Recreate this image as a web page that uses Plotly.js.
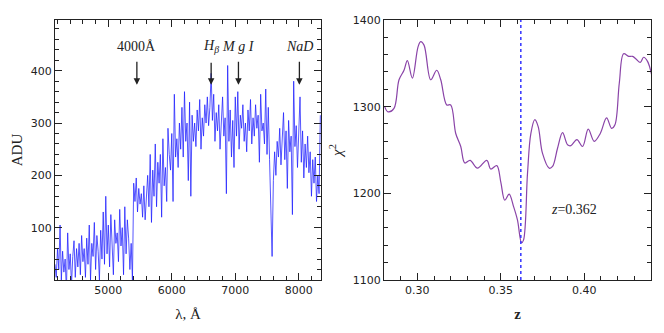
<!DOCTYPE html>
<html>
<head>
<meta charset="utf-8">
<script src="https://cdn.plot.ly/plotly-3.0.1.min.js"></script>
<style>
  html, body { margin: 0; padding: 0; background: #fff; }
  #myDiv { width: 664px; height: 333px; }
</style>
</head>
<body>
<div id="myDiv"></div>
<script>
//---------------------- DATA ---------------------------

// spectrum: wavelength grid start / step (A) and flux values (ADU)
var lambdaStart = 4160;
var lambdaStep = 20;
var adu = [
  30, 5, 60, 20, 105, 0, 55, 15, 40, -20,
  90, 20, 50, -10, 45, 75, 5, 60, 25, 70,
  10, 85, 35, 60, 5, 80, 30, 105, 0, 70,
  45, 110, 20, 85, 55, 0, 95, 40, 130, 30,
  160, 50, 105, 25, 125, 65, 10, 115, 70, 90,
  35, 135, 65, 100, 10, 140, 50, 115, 80, 20,
  70, 0, 185, 150, 195, 130, 175, 145, 165, 120,
  180, 115, 160, 200, 140, 240, 110, 210, 160, 260,
  140, 225, 185, 240, 120, 270, 180, 215, 150, 290,
  240, 210, 280, 150, 355, 235, 270, 215, 300, 250,
  330, 235, 360, 265, 300, 190, 340, 160, 315, 265,
  300, 255, 325, 285, 345, 250, 310, 275, 335, 300,
  350, 295, 330, 395, 305, 355, 265, 320, 285, 335,
  250, 300, 350, 275, 310, 165, 410, 265, 325, 235,
  305, 215, 350, 275, 360, 250, 315, 290, 335, 265,
  300, 245, 325, 285, 345, 260, 310, 275, 335, 290,
  315, 225, 355, 285, 300, 260, 365, 240, 330, 230,
  130, 45, 190, 245, 200, 265, 235, 290, 220, 275,
  320, 230, 285, 175, 305, 245, 275, 125, 380, 255,
  295, 215, 270, 350, 225, 285, 195, 260, 215, 275,
  205, 245, 160, 230, 185, 235, 150, 200, 165, 315
];

// line markers on the spectrum
var lineNames = ['4000Å', '<i>H</i><sub><i>β</i></sub>', '<i>M g I</i>', '<i>NaD</i>'];
var lineLambda = [5450, 6620, 7050, 8010];

// chi^2 vs redshift
var zGrid = [0.2804, 0.2824, 0.286, 0.289, 0.292, 0.294, 0.297, 0.3004, 0.302, 0.304,
  0.308, 0.3116, 0.314, 0.3176, 0.320, 0.323, 0.326, 0.3284, 0.3316, 0.336,
  0.3416, 0.344, 0.3476, 0.350, 0.3524, 0.355, 0.3576, 0.360, 0.3624, 0.3636,
  0.366, 0.368, 0.3704, 0.3724, 0.375, 0.379, 0.381, 0.384, 0.387, 0.390,
  0.392, 0.3956, 0.399, 0.4024, 0.406, 0.4096, 0.4134, 0.4164, 0.4184, 0.421,
  0.4236, 0.4266, 0.429, 0.431, 0.4336, 0.4356, 0.438, 0.4406];
var chi2 = [1300, 1294, 1298, 1331, 1342, 1353, 1333, 1369, 1375, 1371,
  1331, 1342, 1331, 1302, 1302, 1269, 1254, 1235, 1238, 1229,
  1238, 1228, 1232, 1213, 1192, 1199, 1185, 1169, 1143, 1146,
  1223, 1269, 1285, 1277, 1246, 1229, 1231, 1252, 1270, 1256,
  1255, 1262, 1254, 1274, 1260, 1269, 1287, 1275, 1279, 1327,
  1361, 1358, 1358, 1355, 1351, 1357, 1352, 1335];
var zBest = 0.362;

//---------------------- CHART ---------------------------

var lambda = adu.map(function (v, i) { return lambdaStart + i * lambdaStep; });

var spec = {
  x: lambda, y: adu, type: 'scatter', mode: 'lines',
  line: {color: 'rgba(30,30,255,0.75)', width: 1},
  xaxis: 'x', yaxis: 'y', hoverinfo: 'skip'
};

var chiTrace = {
  x: zGrid, y: chi2, type: 'scatter', mode: 'lines',
  line: {color: '#8a44a8', width: 1.2, shape: 'spline'},
  xaxis: 'x2', yaxis: 'y2'
};

var bestLine = {
  x: [zBest, zBest], y: [1100, 1400], type: 'scatter', mode: 'lines',
  line: {color: '#3333ff', width: 1.5, dash: 'dot'},
  xaxis: 'x2', yaxis: 'y2'
};

var serif = 'Liberation Serif, serif';
var tickFont = {family: 'DejaVu Sans, sans-serif', size: 11, color: '#222'};

function axis(extra) {
  var a = {
    showline: true, mirror: 'allticks', linecolor: '#222', linewidth: 1,
    ticks: 'inside', ticklen: 7, tickwidth: 1, tickcolor: '#222',
    showgrid: false, zeroline: false, tickfont: tickFont
  };
  for (var k in extra) a[k] = extra[k];
  return a;
}

function minor(step) {
  return {ticks: 'inside', ticklen: 4, tickwidth: 1, tickcolor: '#222', dtick: step, tick0: 0, showgrid: false};
}

var annotations = lineNames.map(function (name, i) {
  return {
    x: lineLambda[i], y: 373, xref: 'x', yref: 'y',
    text: name, showarrow: true, ax: 0, ay: -38,
    arrowhead: 2, arrowsize: 1, arrowwidth: 1.3, arrowcolor: '#222',
    startstandoff: 6,
    font: {family: serif, size: 14, color: '#222'}
  };
});
annotations.push({
  x: 0.394, y: 1181, xref: 'x2', yref: 'y2',
  text: '<i>z</i>=0.362', showarrow: false,
  font: {family: serif, size: 14, color: '#222'}
});

var layout = {
  width: 664, height: 333,
  margin: {l: 0, r: 0, t: 0, b: 0},
  paper_bgcolor: '#fff', plot_bgcolor: '#fff',
  showlegend: false,
  xaxis: axis({domain: [0.0828, 0.4834], range: [4160, 8350], tickvals: [5000, 6000, 7000, 8000],
    minor: minor(200),
    title: {text: 'λ, Å', font: {family: serif, size: 15, color: '#222'}, standoff: 12}}),
  yaxis: axis({domain: [0.1592, 0.94], range: [0, 497], tickvals: [100, 200, 300, 400],
    minor: minor(20),
    title: {text: 'ADU', font: {family: serif, size: 15, color: '#222'}, standoff: 4}}),
  xaxis2: axis({domain: [0.5783, 0.9804], range: [0.28, 0.44], tickvals: [0.30, 0.35, 0.40],
    ticktext: ['0.30', '0.35', '0.40'], minor: minor(0.01), anchor: 'y2',
    title: {text: '<b>z</b>', font: {family: serif, size: 15, color: '#222'}, standoff: 12}}),
  yaxis2: axis({domain: [0.1592, 0.94], range: [1100, 1400], tickvals: [1100, 1200, 1300, 1400],
    minor: minor(20), anchor: 'x2',
    title: {text: '<i>χ</i><sup>2</sup>', font: {family: serif, size: 15, color: '#222'}, standoff: 6}}),
  annotations: annotations
};

Plotly.newPlot('myDiv', [spec, chiTrace, bestLine], layout, {staticPlot: true});
</script>
</body>
</html>
